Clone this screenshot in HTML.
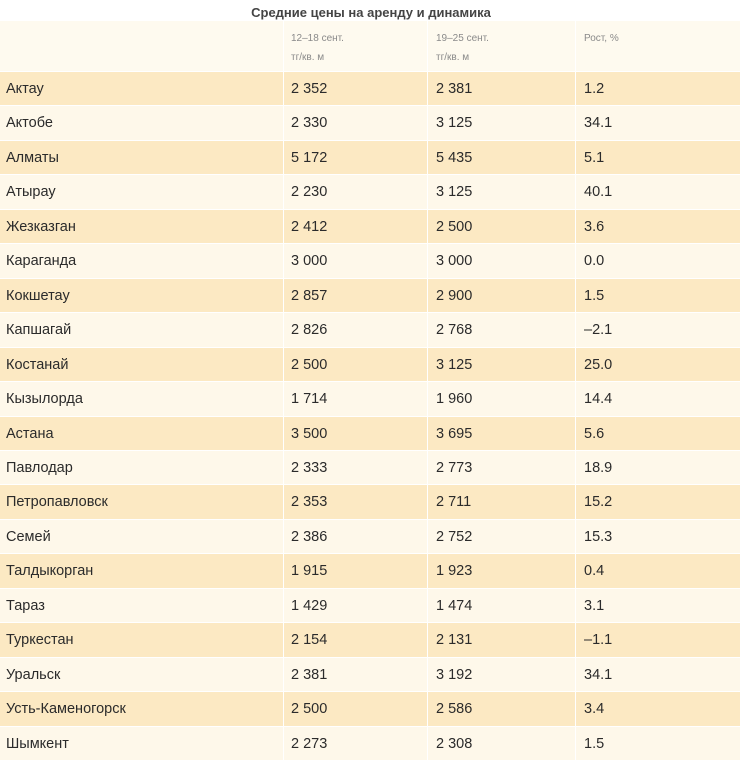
<!DOCTYPE html>
<html><head><meta charset="utf-8">
<style>
html,body{margin:0;padding:0;background:#fff;}
body{width:740px;height:759px;position:relative;overflow:hidden;font-family:"Liberation Sans","DejaVu Sans",sans-serif;color:#2b2b2b;}
.title{position:absolute;left:0;width:742px;top:5px;text-align:center;font-weight:bold;font-size:13px;color:#444;line-height:16px;}
.hdr{position:absolute;left:0;width:740px;top:21px;height:50px;background:#fefaef;}
.hdr .c{position:absolute;top:0;height:50px;font-size:10px;color:#8a8a8a;line-height:19px;padding-top:8px;box-sizing:border-box;}
.row{position:absolute;left:0;width:740px;border-top:1px solid #fff;box-sizing:border-box;}
.d{background:#fce9c3;}
.l{background:#fef8ea;}
.c{position:absolute;top:0;bottom:0;display:flex;align-items:center;font-size:14.5px;}
.c1{left:0;width:283px;padding-left:6px;box-sizing:border-box;}
.c2{left:283px;width:144px;padding-left:7px;box-sizing:border-box;border-left:1px solid #fff;}
.c3{left:427px;width:148px;padding-left:8px;box-sizing:border-box;border-left:1px solid #fff;}
.c4{left:575px;width:165px;padding-left:8px;box-sizing:border-box;border-left:1px solid #fff;}
.hdr .c{display:block;}
</style></head><body>
<div class="title">Средние цены на аренду и динамика</div>
<div class="hdr">
<div class="c c1"></div>
<div class="c c2">12–18 сент.<br>тг/кв. м</div>
<div class="c c3">19–25 сент.<br>тг/кв. м</div>
<div class="c c4">Рост, %</div>
</div>

<div class="row d" style="top:71px;height:34px"><div class="c c1">Актау</div><div class="c c2">2 352</div><div class="c c3">2 381</div><div class="c c4">1.2</div></div>
<div class="row l" style="top:105px;height:35px"><div class="c c1">Актобе</div><div class="c c2">2 330</div><div class="c c3">3 125</div><div class="c c4">34.1</div></div>
<div class="row d" style="top:140px;height:34px"><div class="c c1">Алматы</div><div class="c c2">5 172</div><div class="c c3">5 435</div><div class="c c4">5.1</div></div>
<div class="row l" style="top:174px;height:35px"><div class="c c1">Атырау</div><div class="c c2">2 230</div><div class="c c3">3 125</div><div class="c c4">40.1</div></div>
<div class="row d" style="top:209px;height:34px"><div class="c c1">Жезказган</div><div class="c c2">2 412</div><div class="c c3">2 500</div><div class="c c4">3.6</div></div>
<div class="row l" style="top:243px;height:35px"><div class="c c1">Караганда</div><div class="c c2">3 000</div><div class="c c3">3 000</div><div class="c c4">0.0</div></div>
<div class="row d" style="top:278px;height:34px"><div class="c c1">Кокшетау</div><div class="c c2">2 857</div><div class="c c3">2 900</div><div class="c c4">1.5</div></div>
<div class="row l" style="top:312px;height:35px"><div class="c c1">Капшагай</div><div class="c c2">2 826</div><div class="c c3">2 768</div><div class="c c4">–2.1</div></div>
<div class="row d" style="top:347px;height:34px"><div class="c c1">Костанай</div><div class="c c2">2 500</div><div class="c c3">3 125</div><div class="c c4">25.0</div></div>
<div class="row l" style="top:381px;height:35px"><div class="c c1">Кызылорда</div><div class="c c2">1 714</div><div class="c c3">1 960</div><div class="c c4">14.4</div></div>
<div class="row d" style="top:416px;height:34px"><div class="c c1">Астана</div><div class="c c2">3 500</div><div class="c c3">3 695</div><div class="c c4">5.6</div></div>
<div class="row l" style="top:450px;height:34px"><div class="c c1">Павлодар</div><div class="c c2">2 333</div><div class="c c3">2 773</div><div class="c c4">18.9</div></div>
<div class="row d" style="top:484px;height:35px"><div class="c c1">Петропавловск</div><div class="c c2">2 353</div><div class="c c3">2 711</div><div class="c c4">15.2</div></div>
<div class="row l" style="top:519px;height:34px"><div class="c c1">Семей</div><div class="c c2">2 386</div><div class="c c3">2 752</div><div class="c c4">15.3</div></div>
<div class="row d" style="top:553px;height:35px"><div class="c c1">Талдыкорган</div><div class="c c2">1 915</div><div class="c c3">1 923</div><div class="c c4">0.4</div></div>
<div class="row l" style="top:588px;height:34px"><div class="c c1">Тараз</div><div class="c c2">1 429</div><div class="c c3">1 474</div><div class="c c4">3.1</div></div>
<div class="row d" style="top:622px;height:35px"><div class="c c1">Туркестан</div><div class="c c2">2 154</div><div class="c c3">2 131</div><div class="c c4">–1.1</div></div>
<div class="row l" style="top:657px;height:34px"><div class="c c1">Уральск</div><div class="c c2">2 381</div><div class="c c3">3 192</div><div class="c c4">34.1</div></div>
<div class="row d" style="top:691px;height:35px"><div class="c c1">Усть-Каменогорск</div><div class="c c2">2 500</div><div class="c c3">2 586</div><div class="c c4">3.4</div></div>
<div class="row l" style="top:726px;height:34px"><div class="c c1">Шымкент</div><div class="c c2">2 273</div><div class="c c3">2 308</div><div class="c c4">1.5</div></div>
</body></html>
